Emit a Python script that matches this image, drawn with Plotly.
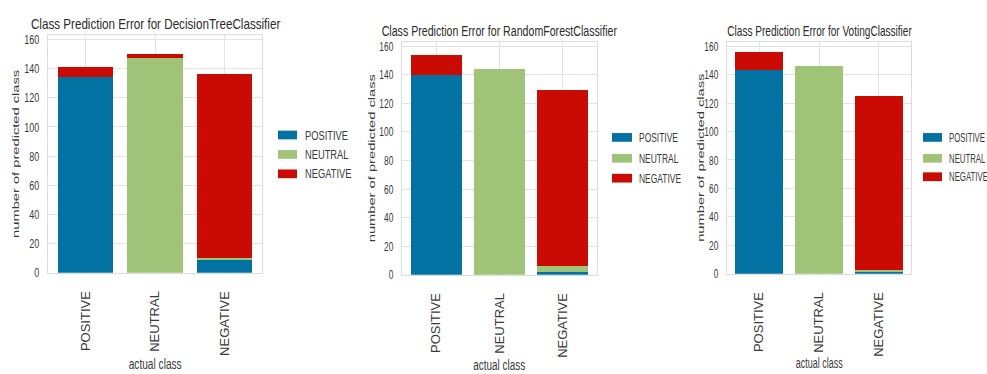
import json
import plotly.graph_objects as go

# Classes (actual on the x axis, predicted as stacked segments)
classes = ["POSITIVE", "NEUTRAL", "NEGATIVE"]
colors = ["#0272a2", "#9fc377", "#ca0b03"]

models = ["DecisionTreeClassifier", "RandomForestClassifier", "VotingClassifier"]

# Counts of predicted class for each actual class (POSITIVE, NEUTRAL, NEGATIVE)
dt_pred_positive = [134, 0, 9]
dt_pred_neutral = [0, 147, 1]
dt_pred_negative = [7, 3, 126]

rf_pred_positive = [140, 0, 2]
rf_pred_neutral = [0, 144, 4]
rf_pred_negative = [14, 0, 123]

vc_pred_positive = [143, 0, 1]
vc_pred_neutral = [0, 146, 2]
vc_pred_negative = [13, 0, 122]

y_ticks = [0, 20, 40, 60, 80, 100, 120, 140, 160]

W, H = 987, 374

panel_data = [
    [dt_pred_positive, dt_pred_neutral, dt_pred_negative],
    [rf_pred_positive, rf_pred_neutral, rf_pred_negative],
    [vc_pred_positive, vc_pred_neutral, vc_pred_negative],
]

# Pixel layout of each panel plus a horizontal condensing factor per text role
panels = [
    dict(x0=48, x1=262, top=33, bottom=278, title_y=21, ytitle_x=16, xtitle_y=371,
         leg_x=278, leg_text_x=303, leg_rows=[136, 156, 176], leg_w=19,
         k_title=0.777, k_tick=0.69, k_leg=0.717, k_xtitle=0.676, k_ytitle=0.66),
    dict(x0=402, x1=597, top=40, bottom=280, title_y=28, ytitle_x=372, xtitle_y=372,
         leg_x=612, leg_text_x=637, leg_rows=[138.5, 160, 180.5], leg_w=20,
         k_title=0.708, k_tick=0.645, k_leg=0.65, k_xtitle=0.663, k_ytitle=0.64),
    dict(x0=727, x1=911, top=40, bottom=279, title_y=28, ytitle_x=701, xtitle_y=370,
         leg_x=923, leg_text_x=947, leg_rows=[138.5, 160, 179], leg_w=19,
         k_title=0.671, k_tick=0.645, k_leg=0.6, k_xtitle=0.6, k_ytitle=0.62),
]

font = "Liberation Sans, Arial, sans-serif"
text_color = "#3a3a3a"

fig = go.Figure()
layout = dict(
    width=W, height=H,
    margin=dict(l=0, r=0, t=0, b=0),
    paper_bgcolor="white",
    plot_bgcolor="white",
    barmode="stack",
    showlegend=False,
    annotations=[],
    shapes=[],
)

# condensing info: per annotation [factor, anchor], per tick class [factor, anchor]
ann_squeeze = []
tick_squeeze = {}

for i, (p, series, model) in enumerate(zip(panels, panel_data, models)):
    sfx = "" if i == 0 else str(i + 1)
    xa, ya = "x" + sfx, "y" + sfx
    for cls, vals, col in zip(classes, series, colors):
        fig.add_trace(go.Bar(
            x=classes, y=vals, name=cls, marker=dict(color=col, line=dict(width=0)),
            width=0.8, xaxis=xa, yaxis=ya,
        ))

    layout["xaxis" + sfx] = dict(
        domain=[p["x0"] / W, p["x1"] / W], anchor=ya,
        type="category", categoryorder="array", categoryarray=classes,
        range=[-0.54, 2.54],
        showgrid=True, gridcolor="#e3e3e3", gridwidth=1.2,
        showline=True, mirror=True, linecolor="#dcdcdc", linewidth=1.2,
        ticks="", tickangle=-90, ticklabelstandoff=12,
        tickfont=dict(family=font, size=13, color=text_color),
    )
    layout["yaxis" + sfx] = dict(
        domain=[1 - p["bottom"] / H, 1 - p["top"] / H], anchor=xa,
        range=[0, 163], tickvals=y_ticks,
        showgrid=True, gridcolor="#e3e3e3", gridwidth=1.2, zeroline=False,
        showline=True, mirror=True, linecolor="#dcdcdc", linewidth=1.2,
        ticks="", ticklabelstandoff=5,
        tickfont=dict(family=font, size=13, color=text_color),
    )
    tick_squeeze["y" + sfx + "tick"] = [p["k_tick"], "end"]

    cx = (p["x0"] + p["x1"]) / 2 / W
    layout["annotations"] += [
        dict(text="Class Prediction Error for " + model, xref="paper", yref="paper",
             x=cx, y=1 - p["title_y"] / H, xanchor="center", yanchor="middle",
             showarrow=False, font=dict(family=font, size=15, color="#2b2b2b")),
        dict(text="number of predicted class", xref="paper", yref="paper",
             x=p["ytitle_x"] / W, y=1 - (p["top"] + p["bottom"]) / 2 / H,
             xanchor="center", yanchor="middle", textangle=-90, showarrow=False,
             font=dict(family=font, size=14.7, color=text_color)),
        dict(text="actual class", xref="paper", yref="paper",
             x=cx, y=1 - p["xtitle_y"] / H, xanchor="center", yanchor="middle",
             showarrow=False, font=dict(family=font, size=15, color=text_color)),
    ]
    ann_squeeze += [[p["k_title"], "middle"], [p["k_ytitle"], "middle"],
                    [p["k_xtitle"], "middle"]]

    # Legend: colour swatch + label for each predicted class
    for cls, col, ry in zip(classes, colors, p["leg_rows"]):
        layout["shapes"].append(dict(
            type="rect", xref="paper", yref="paper",
            x0=p["leg_x"] / W, x1=(p["leg_x"] + p["leg_w"]) / W,
            y0=1 - (ry + 4.5) / H, y1=1 - (ry - 4.5) / H,
            fillcolor=col, line=dict(width=0),
        ))
        layout["annotations"].append(dict(
            text=cls, xref="paper", yref="paper",
            x=p["leg_text_x"] / W, y=1 - ry / H, xanchor="left", yanchor="middle",
            showarrow=False, font=dict(family=font, size=13, color=text_color),
        ))
        ann_squeeze.append([p["k_leg"], "start"])

fig.update_layout(**layout)

# Render the text in a condensed style: scale horizontally (screen x) about an anchor.
# The transform goes on an element whose parent is not rotated.
post_script = """
var gd = document.getElementById('{plot_id}');
var annSq = %s;
var tickSq = %s;
function squeeze(target, textEl, k, align) {
  var r = textEl.getBoundingClientRect();
  var sx = align === 'start' ? r.left : (align === 'end' ? r.right : (r.left + r.right) / 2);
  var m = target.parentNode.getScreenCTM();
  var px = (sx - m.e) / m.a;
  var t0 = target.getAttribute('transform') || '';
  target.setAttribute('transform',
    'translate(' + px + ',0) scale(' + k + ',1) translate(' + (-px) + ',0) ' + t0);
}
gd.querySelectorAll('g.annotation').forEach(function (g) {
  var idx = parseInt(g.getAttribute('data-index'));
  var t = g.querySelector('text');
  if (t && annSq[idx]) squeeze(g, t, annSq[idx][0], annSq[idx][1]);
});
Object.keys(tickSq).forEach(function (cls) {
  gd.querySelectorAll('g.' + cls + ' text').forEach(function (t) {
    squeeze(t, t, tickSq[cls][0], tickSq[cls][1]);
  });
});
""" % (json.dumps(ann_squeeze), json.dumps(tick_squeeze))

fig.write_html("out.html", post_script=post_script)
